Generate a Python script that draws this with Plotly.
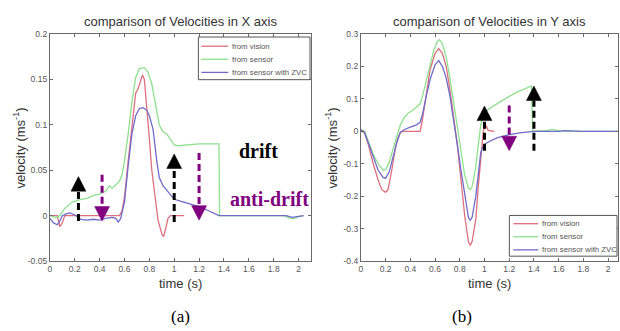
import plotly.graph_objects as go

W, H = 620, 331

# ---------------- data: panel (a) velocity in X ----------------
XA_T_VISION = [0, 0.06, 0.08, 0.10, 0.12, 0.56, 0.58, 0.60, 0.63, 0.66, 0.69, 0.71, 0.73, 0.745,
               0.76, 0.78, 0.80, 0.82, 0.85, 0.87, 0.90, 0.915, 0.93, 0.95, 0.97, 1.08]
XA_V_VISION = [0, 0, -0.012, -0.008, 0, 0, 0.005, 0.02, 0.06, 0.10, 0.135, 0.14, 0.15, 0.155,
               0.15, 0.12, 0.085, 0.05, 0.015, -0.005, -0.02, -0.023, -0.015, -0.003, 0, 0]

XA_T_SENSOR = [0, 0.05, 0.08, 0.12, 0.18, 0.25, 0.30, 0.35, 0.40, 0.45, 0.48, 0.50, 0.53, 0.56,
               0.58, 0.60, 0.63, 0.66, 0.69, 0.72, 0.76, 0.79, 0.82, 0.85, 0.88, 0.91, 0.94, 0.97,
               1.00, 1.03, 1.10, 1.20, 1.30, 1.36, 1.365, 1.50, 1.80, 1.88, 1.93, 1.97, 2.00, 2.04]
XA_V_SENSOR = [0, -0.002, 0, 0.008, 0.015, 0.018, 0.019, 0.022, 0.024, 0.027, 0.033, 0.030, 0.034, 0.038,
               0.045, 0.06, 0.09, 0.125, 0.152, 0.162, 0.163, 0.158, 0.145, 0.12, 0.10, 0.092, 0.09, 0.084,
               0.078, 0.077, 0.078, 0.079, 0.079, 0.079, 0, 0, 0, 0, -0.003, -0.003, -0.001, 0]

XA_T_ZVC = [0, 0.03, 0.06, 0.08, 0.10, 0.13, 0.16, 0.20, 0.25, 0.30, 0.35, 0.40, 0.45, 0.50, 0.53,
            0.55, 0.57, 0.60, 0.63, 0.66, 0.69, 0.72, 0.75, 0.78, 0.80, 0.83, 0.86, 0.88, 0.91, 0.95,
            1.00, 1.05, 1.10, 1.15, 1.20, 1.25, 1.30, 1.36, 1.60, 1.90, 1.95, 2.00, 2.04]
XA_V_ZVC = [-0.003, -0.008, -0.010, -0.006, 0, 0.002, 0.003, 0.001, -0.004, -0.005, -0.004, -0.005, -0.003,
            -0.002, -0.003, -0.007, -0.003, 0.015, 0.055, 0.09, 0.11, 0.118, 0.119, 0.116, 0.11, 0.095,
            0.06, 0.042, 0.033, 0.026, 0.018, 0.016, 0.014, 0.012, 0.010, 0.007, 0.004, 0, 0, 0, -0.002,
            -0.001, 0]

# ---------------- data: panel (b) velocity in Y ----------------
YB_T_VISION = [0, 0.03, 0.06, 0.10, 0.14, 0.17, 0.20, 0.22, 0.25, 0.28, 0.30, 0.32, 0.34, 0.48, 0.50,
               0.53, 0.56, 0.60, 0.63, 0.66, 0.69, 0.72, 0.75, 0.78, 0.81, 0.84, 0.87, 0.885, 0.90,
               0.93, 0.95, 0.97, 0.99, 1.01, 1.03, 1.08]
YB_V_VISION = [0.003, -0.005, -0.04, -0.10, -0.15, -0.18, -0.188, -0.18, -0.12, -0.05, -0.02, -0.003, 0, 0,
               0.04, 0.12, 0.19, 0.24, 0.255, 0.24, 0.20, 0.13, 0.05, -0.04, -0.15, -0.26, -0.34, -0.352,
               -0.34, -0.27, -0.17, -0.07, 0, 0.02, 0.003, 0]

YB_T_SENSOR = [0, 0.03, 0.06, 0.10, 0.14, 0.18, 0.20, 0.23, 0.26, 0.29, 0.32, 0.35, 0.38, 0.42, 0.46,
               0.48, 0.50, 0.53, 0.56, 0.59, 0.62, 0.635, 0.66, 0.69, 0.72, 0.75, 0.78, 0.81, 0.84,
               0.87, 0.885, 0.90, 0.93, 0.95, 0.97, 0.99, 1.02, 1.08, 1.15, 1.20, 1.26, 1.32, 1.38,
               1.39, 1.50, 1.55, 1.60, 1.70, 2.08]
YB_V_SENSOR = [0.005, 0, -0.03, -0.07, -0.10, -0.12, -0.118, -0.095, -0.055, -0.015, 0.02, 0.042, 0.055,
               0.065, 0.078, 0.085, 0.11, 0.155, 0.205, 0.25, 0.278, 0.283, 0.27, 0.23, 0.165, 0.09, 0,
               -0.075, -0.135, -0.175, -0.18, -0.17, -0.11, -0.04, 0.02, 0.055, 0.065, 0.08, 0.097,
               0.108, 0.12, 0.13, 0.14, 0, 0.002, 0.006, 0.002, 0, 0]

YB_T_ZVC = [0, 0.03, 0.06, 0.10, 0.14, 0.18, 0.20, 0.23, 0.26, 0.29, 0.32, 0.35, 0.40, 0.45, 0.48,
            0.50, 0.53, 0.56, 0.60, 0.63, 0.66, 0.69, 0.72, 0.75, 0.78, 0.81, 0.84, 0.87, 0.885,
            0.90, 0.93, 0.95, 0.97, 0.99, 1.02, 1.10, 1.20, 1.30, 1.40, 1.60, 1.65, 1.80, 2.08]
YB_V_ZVC = [0.005, -0.003, -0.035, -0.08, -0.12, -0.142, -0.145, -0.125, -0.08, -0.035, -0.003, 0.005,
            0.013, 0.02, 0.028, 0.055, 0.11, 0.16, 0.205, 0.218, 0.20, 0.165, 0.11, 0.04, -0.04, -0.12,
            -0.20, -0.265, -0.275, -0.265, -0.20, -0.13, -0.065, -0.045, -0.035, -0.02, -0.01, -0.004,
            0, 0, 0.002, 0, 0]

# drift / anti-drift arrows: time, dashed-line start value, arrow tip value
XA_ARROW_T = [0.23, 0.42, 1.0, 1.2]
XA_ARROW_FROM = [-0.006, 0.045, -0.007, 0.069]
XA_ARROW_TIP = [0.043, -0.006, 0.068, -0.005]

YB_ARROW_T = [1.0, 1.2, 1.4]
YB_ARROW_FROM = [-0.06, 0.08, -0.06]
YB_ARROW_TIP = [0.078, -0.06, 0.14]

# axis ticks
X_TICKS = [0, 0.2, 0.4, 0.6, 0.8, 1, 1.2, 1.4, 1.6, 1.8, 2]
X_TICKTEXT = ["0", "0.2", "0.4", "0.6", "0.8", "1", "1.2", "1.4", "1.6", "1.8", "2"]
XA_YTICKS = [-0.05, 0, 0.05, 0.1, 0.15, 0.2]
XA_YTICKTEXT = ["-0.05", "0", "0.05", "0.1", "0.15", "0.2"]
YB_YTICKS = [-0.4, -0.3, -0.2, -0.1, 0, 0.1, 0.2, 0.3]
YB_YTICKTEXT = ["-0.4", "-0.3", "-0.2", "-0.1", "0", "0.1", "0.2", "0.3"]

SERIES_NAMES = ["from vision", "from sensor", "from sensor with ZVC"]

# ---------------- styles / layout geometry (pixels) ----------------
RED, GREEN, BLUE = "#dd6f7e", "#8fe08f", "#6f6cc8"
SERIES_COLORS = [RED, GREEN, BLUE]
BLACK, PURPLE = "#000000", "#800080"
AX_COLOR = "#6a6a6a"
TXT = "#333333"
LEG_TXT = "#555555"

A_L, A_R = 48, 310
B_L, B_R = 360, 618
P_T, P_B = 30, 264
XA_XRANGE = [0, 2.1]
YB_XRANGE = [0, 2.08]
XA_YRANGE = [-0.05, 0.2]
YB_YRANGE = [-0.4, 0.3]


def px(x):
    return x / W


def py(y):
    return 1 - y / H


fig = go.Figure()

panels = [
    ("x", "y", [(XA_T_VISION, XA_V_VISION), (XA_T_SENSOR, XA_V_SENSOR), (XA_T_ZVC, XA_V_ZVC)]),
    ("x2", "y2", [(YB_T_VISION, YB_V_VISION), (YB_T_SENSOR, YB_V_SENSOR), (YB_T_ZVC, YB_V_ZVC)]),
]
for xa, ya, series in panels:
    for (t, v), name, col in zip(series, SERIES_NAMES, SERIES_COLORS):
        fig.add_trace(go.Scatter(x=t, y=v, mode="lines", name=name, xaxis=xa, yaxis=ya,
                                 showlegend=False, line=dict(color=col, width=1.3)))


def add_arrows(ts, froms, tips, xa, ya, x_px_per_unit, y_px_per_unit):
    head_h = 15 / y_px_per_unit
    half_w = 7.5 / x_px_per_unit
    for t, f, tip in zip(ts, froms, tips):
        up = tip > f
        col = BLACK if up else PURPLE
        base = tip - head_h if up else tip + head_h
        fig.add_trace(go.Scatter(x=[t, t], y=[f, base], mode="lines", xaxis=xa, yaxis=ya,
                                 showlegend=False, hoverinfo="skip",
                                 line=dict(color=col, width=3, dash="7px,4px")))
        fig.add_trace(go.Scatter(x=[t - half_w, t + half_w, t, t - half_w], y=[base, base, tip, base],
                                 mode="lines", fill="toself", fillcolor=col, xaxis=xa, yaxis=ya,
                                 showlegend=False, hoverinfo="skip", line=dict(color=col, width=0.5)))


add_arrows(XA_ARROW_T, XA_ARROW_FROM, XA_ARROW_TIP, "x", "y",
           (A_R - A_L) / (XA_XRANGE[1] - XA_XRANGE[0]), (P_B - P_T) / (XA_YRANGE[1] - XA_YRANGE[0]))
add_arrows(YB_ARROW_T, YB_ARROW_FROM, YB_ARROW_TIP, "x2", "y2",
           (B_R - B_L) / (YB_XRANGE[1] - YB_XRANGE[0]), (P_B - P_T) / (YB_YRANGE[1] - YB_YRANGE[0]))

axis_common = dict(showline=True, linecolor=AX_COLOR, linewidth=1, mirror="ticks", ticks="inside",
                   ticklen=3, tickcolor=AX_COLOR, showgrid=False, zeroline=False,
                   tickfont=dict(family="Liberation Sans, Arial", size=8.5, color="#555555"))

fig.update_layout(
    width=W, height=H, margin=dict(l=0, r=0, t=0, b=0),
    paper_bgcolor="white", plot_bgcolor="white", showlegend=False,
    xaxis=dict(domain=[px(A_L), px(A_R)], range=XA_XRANGE, anchor="y", tickvals=X_TICKS,
               ticktext=X_TICKTEXT, **axis_common),
    yaxis=dict(domain=[py(P_B), py(P_T)], range=XA_YRANGE, anchor="x", tickvals=XA_YTICKS,
               ticktext=XA_YTICKTEXT, **axis_common),
    xaxis2=dict(domain=[px(B_L), px(B_R)], range=YB_XRANGE, anchor="y2", tickvals=X_TICKS,
                ticktext=X_TICKTEXT, **axis_common),
    yaxis2=dict(domain=[py(P_B), py(P_T)], range=YB_YRANGE, anchor="x2", tickvals=YB_YTICKS,
                ticktext=YB_YTICKTEXT, **axis_common),
)

ann_font = dict(family="Liberation Sans, Arial", size=13, color=TXT)
serif = "Liberation Serif, Times New Roman"
annotations = [
    dict(text="comparison of Velocities in X axis", x=px((A_L + A_R) / 2), y=py(17), font=ann_font),
    dict(text="comparison of Velocities in Y axis", x=px((B_L + B_R) / 2), y=py(17), font=ann_font),
    dict(text="time (s)", x=px((A_L + A_R) / 2), y=py(287), font=ann_font),
    dict(text="time (s)", x=px((B_L + B_R) / 2), y=py(287), font=ann_font),
    dict(text="velocity (ms<sup>-1</sup>)", x=px(17), y=py((P_T + P_B) / 2), textangle=-90, font=ann_font),
    dict(text="velocity (ms<sup>-1</sup>)", x=px(330), y=py((P_T + P_B) / 2), textangle=-90, font=ann_font),
    dict(text="(a)", x=px((A_L + A_R) / 2), y=py(321), font=dict(family=serif, size=17, color="#000")),
    dict(text="(b)", x=px(461), y=py(321), font=dict(family=serif, size=17, color="#000")),
    dict(text="<b>drift</b>", x=px(257), y=py(151), font=dict(family=serif, size=20, color=BLACK)),
    dict(text="<b>anti-drift</b>", x=px(268), y=py(200), font=dict(family=serif, size=20, color=PURPLE)),
]
for a in annotations:
    a.update(xref="paper", yref="paper", showarrow=False, xanchor="center", yanchor="middle")

# hand-drawn MATLAB-style legends: (box left, box top, box right, box bottom, first row y, row step, line x0, line x1)
shapes = []
legends = [(197, 33, 309, 77, 42.5, 13.5, 200, 227),
           (509, 217, 617, 259, 225.5, 13.5, 513, 538)]
for (bl, bt, br, bb, y0, dy, lx0, lx1) in legends:
    shapes.append(dict(type="rect", xref="paper", yref="paper", x0=px(bl), x1=px(br), y0=py(bb), y1=py(bt),
                       line=dict(color="#555555", width=1), fillcolor="white", layer="above"))
    for i, (name, col) in enumerate(zip(SERIES_NAMES, SERIES_COLORS)):
        yy = y0 + i * dy
        shapes.append(dict(type="line", xref="paper", yref="paper", x0=px(lx0), x1=px(lx1), y0=py(yy), y1=py(yy),
                           line=dict(color=col, width=1.3), layer="above"))
        annotations.append(dict(text=name, xref="paper", yref="paper", x=px(lx1 + 1.5), y=py(yy), showarrow=False,
                                xanchor="left", yanchor="middle",
                                font=dict(family="Liberation Sans, Arial", size=7.8, color=LEG_TXT)))

fig.update_layout(annotations=annotations, shapes=shapes)

fig.write_html("out.html", config={"displayModeBar": False},
               post_script="document.body.style.margin='0';")
